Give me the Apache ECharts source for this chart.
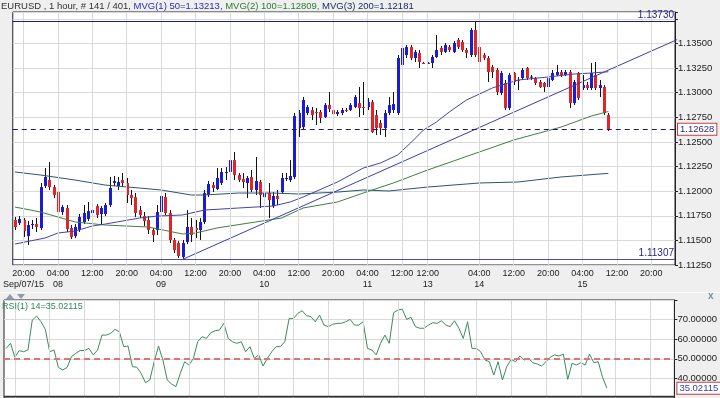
<!DOCTYPE html>
<html><head><meta charset="utf-8">
<script src="https://cdn.jsdelivr.net/npm/echarts/dist/echarts.min.js"></script>
<style>html,body{margin:0;padding:0;background:#efefef;}#c{width:720px;height:398px;}</style>
</head><body><div id="c"></div>
<script>
// ---- data (EURUSD 1 hour) ----
const opens = [1.11707,1.11676,1.11707,1.11544,1.11656,1.11666,1.11626,1.12052,1.12113,1.12042,1.11991,1.11788,1.11829,1.11626,1.11544,1.11605,1.11687,1.11717,1.11778,1.11849,1.11768,1.11768,1.11859,1.12083,1.12052,1.12113,1.12083,1.11961,1.11940,1.11808,1.11747,1.11707,1.11605,1.11605,1.11788,1.11940,1.11778,1.11504,1.11473,1.11331,1.11483,1.11636,1.11626,1.11605,1.11687,1.11961,1.12062,1.12022,1.12083,1.12184,1.12195,1.12316,1.12164,1.12123,1.12083,1.12144,1.12012,1.12093,1.11940,1.11981,1.11849,1.11951,1.11991,1.12123,1.12113,1.12144,1.12641,1.12651,1.12794,1.12824,1.12804,1.12804,1.12753,1.12875,1.12824,1.12784,1.12794,1.12824,1.12824,1.12855,1.12895,1.12855,1.12855,1.12905,1.12773,1.12692,1.12641,1.12794,1.12824,1.12794,1.13282,1.13383,1.13464,1.13353,1.13404,1.13302,1.13300,1.13302,1.13363,1.13454,1.13414,1.13464,1.13414,1.13536,1.13515,1.13434,1.13383,1.13637,1.13464,1.13383,1.13353,1.13261,1.13231,1.12997,1.13099,1.12845,1.13200,1.13129,1.13149,1.13251,1.13160,1.13149,1.13109,1.13099,1.13058,1.13129,1.13180,1.13210,1.13180,1.13210,1.12895,1.13200,1.13048,1.13078,1.13048,1.13180,1.13048,1.13058,1.12773];
const closes = [1.11636,1.11717,1.11595,1.11656,1.11666,1.11636,1.12042,1.12144,1.12042,1.11961,1.11788,1.11839,1.11615,1.11534,1.11636,1.11737,1.11778,1.11798,1.11808,1.11758,1.11829,1.11859,1.12032,1.12103,1.12093,1.12083,1.11961,1.11930,1.11778,1.11758,1.11697,1.11605,1.11554,1.11788,1.11951,1.11778,1.11504,1.11402,1.11341,1.11473,1.11636,1.11554,1.11605,1.11687,1.11981,1.12073,1.12032,1.12134,1.12195,1.12195,1.12316,1.12164,1.12113,1.12093,1.12134,1.12012,1.12103,1.11961,1.11981,1.11910,1.11951,1.11920,1.12134,1.12134,1.12154,1.12763,1.12794,1.12926,1.12855,1.12773,1.12794,1.12743,1.12875,1.12834,1.12784,1.12804,1.12824,1.12814,1.12875,1.12956,1.12845,1.12845,1.12905,1.12601,1.12641,1.12641,1.12794,1.12875,1.12885,1.13353,1.13454,1.13464,1.13353,1.13414,1.13312,1.13300,1.13304,1.13363,1.13434,1.13414,1.13485,1.13434,1.13505,1.13464,1.13434,1.13404,1.13637,1.13383,1.13312,1.13353,1.13210,1.13210,1.13007,1.13200,1.12845,1.13180,1.13109,1.13119,1.13231,1.13149,1.13163,1.13099,1.13058,1.13058,1.13149,1.13200,1.13210,1.13180,1.13210,1.12895,1.13109,1.12946,1.13078,1.13048,1.13200,1.13048,1.13078,1.12794,1.12628];
const lows = [1.11605,1.11656,1.11534,1.11453,1.11615,1.11585,1.11605,1.12032,1.12012,1.11930,1.11707,1.11758,1.11585,1.11514,1.11524,1.11585,1.11666,1.11697,1.11747,1.11727,1.11656,1.11747,1.11839,1.12052,1.12012,1.12042,1.11880,1.11859,1.11737,1.11727,1.11646,1.11565,1.11483,1.11554,1.11768,1.11758,1.11473,1.11372,1.11321,1.11307,1.11463,1.11483,1.11524,1.11504,1.11666,1.11940,1.11991,1.12012,1.12062,1.12113,1.12174,1.12113,1.12093,1.12032,1.11930,1.11991,1.11961,1.11829,1.11920,1.11727,1.11829,1.11859,1.11971,1.12103,1.12093,1.12123,1.12550,1.12621,1.12773,1.12722,1.12672,1.12692,1.12743,1.12804,1.12743,1.12763,1.12773,1.12804,1.12814,1.12845,1.12753,1.12773,1.12824,1.12591,1.12570,1.12570,1.12550,1.12773,1.12794,1.12773,1.13261,1.13353,1.13332,1.13312,1.13251,1.13292,1.13292,1.13251,1.13353,1.13383,1.13404,1.13414,1.13404,1.13444,1.13414,1.13353,1.13363,1.13363,1.13261,1.13332,1.13109,1.13149,1.12977,1.12977,1.12824,1.12824,1.13078,1.13028,1.13129,1.13129,1.13129,1.13078,1.13048,1.13007,1.13048,1.13119,1.13170,1.13160,1.13170,1.12845,1.12875,1.12926,1.13028,1.13028,1.13028,1.13028,1.12956,1.12773,1.12611];
const highs = [1.11737,1.11747,1.11727,1.11697,1.11707,1.11727,1.12083,1.12235,1.12296,1.12062,1.12032,1.11859,1.11859,1.11656,1.11666,1.11768,1.11859,1.11890,1.11910,1.11869,1.11849,1.11880,1.12144,1.12154,1.12144,1.12184,1.12134,1.12012,1.11981,1.11849,1.11788,1.11747,1.11626,1.11859,1.12093,1.11981,1.11808,1.11524,1.11493,1.11504,1.11808,1.11727,1.11707,1.11727,1.12012,1.12103,1.12093,1.12235,1.12235,1.12245,1.12448,1.12398,1.12184,1.12184,1.12154,1.12215,1.12347,1.12113,1.12032,1.12083,1.11991,1.12012,1.12184,1.12184,1.12316,1.12794,1.12824,1.12956,1.12875,1.12855,1.12845,1.12824,1.12895,1.13007,1.12845,1.12824,1.12845,1.12845,1.12895,1.12977,1.13058,1.13109,1.12946,1.12926,1.12824,1.12722,1.12824,1.12956,1.13007,1.13383,1.13485,1.13485,1.13485,1.13434,1.13434,1.13312,1.13312,1.13383,1.13586,1.13475,1.13505,1.13485,1.13525,1.13556,1.13536,1.13454,1.13657,1.13730,1.13485,1.13404,1.13373,1.13282,1.13251,1.13221,1.13129,1.13200,1.13210,1.13160,1.13251,1.13261,1.13180,1.13160,1.13129,1.13109,1.13170,1.13231,1.13282,1.13231,1.13231,1.13231,1.13129,1.13210,1.13180,1.13109,1.13302,1.13312,1.13129,1.13078,1.12794];
const rsi = [55.3,57.9,50.8,54.2,53.6,54.5,69.8,71.8,68.9,65.0,53.6,54.5,45.6,44.3,45.6,51.1,52.8,54.2,54.2,55.3,52.0,54.5,62.1,62.1,63.0,65.0,63.8,56.2,56.5,46.0,45.7,42.6,37.8,39.2,48.5,56.5,49.4,39.2,37.1,35.8,42.6,48.5,46.8,50.2,58.7,61.3,60.4,63.3,64.3,64.7,68.1,60.4,58.7,57.9,58.7,53.6,56.2,50.2,52.0,46.3,50.2,53.6,56.2,56.2,58.7,70.6,70.6,73.2,74.5,72.0,71.5,68.9,72.3,67.2,66.4,67.6,68.1,68.1,68.9,70.1,67.2,67.2,68.9,55.3,54.5,52.0,57.9,62.1,57.9,73.5,74.9,75.3,70.1,71.2,66.4,65.6,65.6,67.2,68.4,68.1,69.4,67.2,66.4,69.4,65.6,60.4,68.9,55.3,55.3,53.6,49.4,48.5,41.7,48.5,39.2,46.0,49.7,48.5,51.4,49.4,50.2,48.0,47.3,46.3,48.5,50.8,52.0,51.4,52.4,39.5,47.7,46.8,48.0,46.8,52.4,48.0,48.5,40.6,35.02115];

const ma50Idx = [0,7,10,14,18,21,29,33,39,44,52,60,64,67,75,81,85,89,92,95,98,101,105,109,111,117,124,130,134,138];
const ma50Val = [1.11463,1.11524,1.11575,1.11595,1.11646,1.11666,1.11727,1.11747,1.11758,1.11808,1.11829,1.11849,1.11890,1.11940,1.12093,1.12235,1.12286,1.12367,1.12489,1.12621,1.12702,1.12804,1.12926,1.13007,1.13048,1.13129,1.13160,1.13190,1.13200,1.13213];
const ma100Idx = [0,6,14,21,31,39,42,47,56,62,67,75,81,88,96,108,116,127,134,138];
const ma100Val = [1.11839,1.11788,1.11687,1.11656,1.11636,1.11565,1.11575,1.11626,1.11687,1.11727,1.11829,1.11890,1.11981,1.12083,1.12215,1.12398,1.12520,1.12651,1.12763,1.12809];
const ma200Idx = [0,6,14,21,29,34,41,44,52,60,66,75,81,87,96,108,117,127,138];
const ma200Val = [1.12195,1.12164,1.12113,1.12062,1.12032,1.12012,1.11961,1.11961,1.11981,1.11981,1.11971,1.11991,1.12012,1.12002,1.12042,1.12083,1.12093,1.12144,1.12181];

const trendIdx = [39, 154];
const trendVal = [1.11307, 1.13540];

const levelHigh = 1.13730, levelLow = 1.11307, lastClose = 1.12628, rsiLast = 35.02115;

const tickBars  = [2,10,18,26,34,42,50,58,66,74,82,90,96,108,116,124,132,140,148];
const tickTimes = ['20:00','04:00','12:00','20:00','04:00','12:00','20:00','04:00','12:00','20:00','04:00','12:00','12:00','04:00','12:00','20:00','04:00','12:00','20:00'];
const tickDates = ['Sep/07/15','08','','','09','','','10','','','11','','13','14','','','15','',''];
const priceTicks = [1.1125, 1.1382, 0.0025];
const rsiTicks = [30, 80, 10];
const slotCount = 154;

// ---- chart ----
const F = 'Liberation Sans, Arial, sans-serif';
const chart = echarts.init(document.getElementById('c'), null, {renderer:'canvas'});
const pair = (ix, vals) => ix.map((x, k) => [x, vals[k]]);
const candleData = opens.map((o, i) => [i, o, closes[i], lows[i], highs[i]]);
const vGrid = tickBars.map(b => ({xAxis: b}));

function renderCandle(params, api) {
  const i = api.value(0), o = api.value(1), c = api.value(2), l = api.value(3), h = api.value(4);
  const pO = api.coord([i, o]), pC = api.coord([i, c]), pL = api.coord([i, l]), pH = api.coord([i, h]);
  const xc = Math.round(pO[0]) + 0.5;
  const col = c > o ? '#1b1bd4' : (c < o ? '#e0242a' : '#111');
  const top = Math.min(pO[1], pC[1]), bot = Math.max(pO[1], pC[1]);
  return {type: 'group', children: [
    {type: 'line', shape: {x1: xc, y1: pH[1], x2: xc, y2: pL[1]}, style: {stroke: '#111', lineWidth: 1}},
    {type: 'rect', shape: {x: xc - 1.5, y: top, width: 3, height: Math.max(bot - top, 1)}, style: {fill: col}}
  ]};
}

const xAxisBase = {
  type: 'value', min: -0.5, max: slotCount - 0.5, interval: 0.5,
  axisLine: {show: false, onZero: false}, axisTick: {show: false}, splitLine: {show: false}
};

const option = {
  backgroundColor: '#efefef',
  animation: false,
  title: {
    left: 1, top: 1, padding: 0,
    text: '{a|EURUSD , 1 hour, # 141 / 401, }{b|MVG(1) 50=' + ma50Val[ma50Val.length-1].toFixed(5) + ', }{c|MVG(2) 100=' + ma100Val[ma100Val.length-1].toFixed(5) + ', }{d|MVG(3) 200=' + ma200Val[ma200Val.length-1].toFixed(5) + '}',
    textStyle: {fontSize: 9.5, fontWeight: 'normal', fontFamily: F,
      rich: {
        a: {color: '#333', fontSize: 9.5, fontFamily: F},
        b: {color: '#2c2cb0', fontSize: 9.5, fontFamily: F},
        c: {color: '#2e7d32', fontSize: 9.5, fontFamily: F},
        d: {color: '#1c2c60', fontSize: 9.5, fontFamily: F}
      }}
  },
  grid: [
    {left: 4, right: 45, top: 12, height: 253, show: true, backgroundColor: '#fff', borderColor: '#222', borderWidth: 1},
    {left: 4, right: 45, top: 300, height: 98, show: true, backgroundColor: '#fff', borderColor: '#222', borderWidth: 1}
  ],
  xAxis: [
    Object.assign({}, xAxisBase, {gridIndex: 0,
      axisLabel: {show: true, margin: 3, fontSize: 9, fontFamily: F, color: '#222', lineHeight: 11,
        showMinLabel: false, showMaxLabel: false,
        formatter: v => { const k = tickBars.indexOf(v); return k < 0 ? '' : tickTimes[k] + '\n' + (tickDates[k] || ' '); }}}),
    Object.assign({}, xAxisBase, {gridIndex: 1, axisLabel: {show: false}})
  ],
  yAxis: [
    {type: 'value', gridIndex: 0, position: 'right', min: priceTicks[0], max: priceTicks[1], interval: priceTicks[2],
      axisLine: {show: true, onZero: false, lineStyle: {color: '#222'}}, axisTick: {show: true, length: 3, lineStyle: {color: '#222'}},
      axisLabel: {margin: 3, fontSize: 9.5, fontFamily: F, color: '#222', formatter: v => v > 1.136 ? '' : v.toFixed(5)},
      splitLine: {lineStyle: {color: '#d9d9d9'}}},
    {type: 'value', gridIndex: 1, position: 'right', min: rsiTicks[0], max: rsiTicks[1], interval: rsiTicks[2],
      axisLine: {show: true, onZero: false, lineStyle: {color: '#222'}}, axisTick: {show: true, length: 3, lineStyle: {color: '#222'}},
      axisLabel: {margin: 3, fontSize: 9.5, fontFamily: F, color: '#222', formatter: v => (v <= 30 || v >= 80) ? '' : v.toFixed(5)},
      splitLine: {lineStyle: {color: '#d9d9d9'}}}
  ],
  series: [
    {type: 'line', xAxisIndex: 0, yAxisIndex: 0, z: 0, silent: true, symbol: 'none',
      data: pair(ma100Idx, ma100Val), lineStyle: {opacity: 0},
      markLine: {silent: true, symbol: ['none', 'none'], animation: false, label: {show: false},
        lineStyle: {color: '#d9d9d9', type: 'solid', width: 1}, data: vGrid}},
    {type: 'line', xAxisIndex: 1, yAxisIndex: 1, z: 0, silent: true, symbol: 'none',
      data: rsi.map((v, i) => [i, v]), lineStyle: {opacity: 0},
      markLine: {silent: true, symbol: ['none', 'none'], animation: false, label: {show: false},
        lineStyle: {color: '#d9d9d9', type: 'solid', width: 1}, data: vGrid}},
    {type: 'line', name: 'MA200', xAxisIndex: 0, yAxisIndex: 0, z: 3, symbol: 'none', silent: true,
      data: pair(ma200Idx, ma200Val), lineStyle: {color: '#2d5470', width: 1},
      markLine: {silent: true, symbol: ['none', 'none'], animation: false, precision: 5,
        data: [
          {yAxis: levelHigh, lineStyle: {color: '#1e1e6e', width: 1.2, type: 'solid'},
            label: {show: true, position: 'insideEndTop', distance: [1, 1], formatter: levelHigh.toFixed(5), color: '#1e1e8c', fontSize: 10, fontFamily: F}},
          {yAxis: levelLow, lineStyle: {color: '#4a4ab6', width: 1.2, type: 'solid'},
            label: {show: true, position: 'insideEndTop', distance: [1, 1], formatter: levelLow.toFixed(5), color: '#1e1e8c', fontSize: 10, fontFamily: F}},
          {yAxis: lastClose, lineStyle: {color: '#1c1c5c', width: 1, type: [5, 4]},
            label: {show: true, position: 'end', distance: 3, formatter: lastClose.toFixed(5), color: '#2a2a7a', fontSize: 9.5, fontFamily: F,
              backgroundColor: '#fff', borderColor: '#c04040', borderWidth: 1, padding: [1, 2, 0, 2]}}
        ]}},
    {type: 'line', name: 'MA100', xAxisIndex: 0, yAxisIndex: 0, z: 3, symbol: 'none', silent: true,
      data: pair(ma100Idx, ma100Val), lineStyle: {color: '#3f7f3f', width: 1}},
    {type: 'line', name: 'MA50', xAxisIndex: 0, yAxisIndex: 0, z: 3, symbol: 'none', silent: true,
      data: pair(ma50Idx, ma50Val), lineStyle: {color: '#4444a8', width: 1}},
    {type: 'line', name: 'trend', xAxisIndex: 0, yAxisIndex: 0, z: 3, symbol: 'none', silent: true, clip: true,
      data: pair(trendIdx, trendVal), lineStyle: {color: '#3c3cae', width: 1}},
    {type: 'custom', name: 'EURUSD', xAxisIndex: 0, yAxisIndex: 0, z: 2, renderItem: renderCandle,
      encode: {x: 0, y: [1, 2, 3, 4]}, data: candleData, clip: true},
    {type: 'line', name: 'RSI', xAxisIndex: 1, yAxisIndex: 1, z: 3, symbol: 'none', silent: true,
      data: rsi.map((v, i) => [i, v]), lineStyle: {color: '#3a8c5e', width: 1},
      markLine: {silent: true, symbol: ['none', 'none'], animation: false, precision: 5,
        data: [
          {yAxis: 50, lineStyle: {color: '#d47878', width: 2, type: [6, 4]}, label: {show: false}},
          {yAxis: rsiLast, lineStyle: {color: 'rgba(0,0,0,0)', width: 0},
            label: {show: true, position: 'end', distance: 3, formatter: rsiLast.toFixed(5), color: '#3a3aa8', fontSize: 9.5, fontFamily: F,
              backgroundColor: '#fff', borderColor: '#c04040', borderWidth: 1, padding: [1, 2, 0, 2]}}
        ]}}
  ],
  graphic: [
    {type: 'line', shape: {x1: 0, y1: 292.5, x2: 720, y2: 292.5}, style: {stroke: '#fbfbfb', lineWidth: 1}, silent: true},
    {type: 'line', shape: {x1: 4, y1: 396.5, x2: 675, y2: 396.5}, style: {stroke: '#333', lineWidth: 1.5}, silent: true, z: 10},
    {type: 'polygon', shape: {points: [[6, 299], [14, 299], [10, 294]]}, style: {fill: '#8b9ab2'}, silent: true},
    {type: 'polygon', shape: {points: [[17, 294], [25, 294], [21, 299]]}, style: {fill: '#8b9ab2'}, silent: true},
    {type: 'text', left: 708, top: 291, style: {text: 'x', fill: '#7f8ea6', font: 'bold 10px ' + F}, silent: true},
    {type: 'text', left: 2, top: 302, z: 10, style: {text: 'RSI(1) 14=' + rsiLast.toFixed(5), fill: '#2f8a55', font: '9px ' + F}, silent: true}
  ]
};
chart.setOption(option);
</script>
</body></html>
